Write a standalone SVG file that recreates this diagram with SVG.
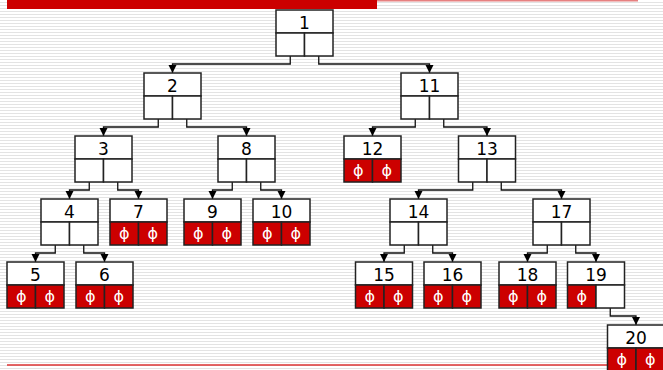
<svg xmlns="http://www.w3.org/2000/svg" width="663" height="370" viewBox="0 0 663 370">
<style>
.box{fill:#fff;stroke:#222;stroke-width:1.5}
.nul{fill:#cc0000;stroke:#222;stroke-width:1.5}
.emp{fill:#fff;stroke:#222;stroke-width:1.5}
.lbl{font-family:"DejaVu Sans",Verdana,sans-serif;font-size:17px;fill:#000;text-anchor:middle}
.phi{font-family:"DejaVu Sans",Verdana,sans-serif;font-size:16px;fill:#fff;text-anchor:middle}
.con{fill:none;stroke:#111;stroke-width:1.3;marker-end:url(#arr)}
</style>
<defs>
<pattern id="stripes" x="0" y="0" width="8" height="3" patternUnits="userSpaceOnUse">
<rect width="8" height="3" fill="#fff"/>
<rect y="2" width="8" height="1" fill="#e3e3e3"/>
</pattern>
<marker id="arr" markerUnits="userSpaceOnUse" markerWidth="10" markerHeight="10" refX="8" refY="4" orient="auto">
<path d="M0,0 L8,4 L0,8 z" fill="#000"/>
</marker>
<g id="leafcells">
<rect class="nul" x="0" y="23" width="28.5" height="23"/>
<rect class="nul" x="28.5" y="23" width="28.5" height="23"/>
<text class="phi" x="14.25" y="40">ϕ</text>
<text class="phi" x="42.75" y="40">ϕ</text>
</g>
<g id="intcells">
<rect class="emp" x="0" y="23" width="28.5" height="23"/>
<rect class="emp" x="28.5" y="23" width="28.5" height="23"/>
</g>
</defs>
<rect width="663" height="370" fill="url(#stripes)"/>
<rect x="7" y="0" width="370" height="9" fill="#cc0000"/>
<rect x="377" y="0" width="261" height="1.5" fill="#e68080"/>
<line x1="7" y1="365" x2="608" y2="365" stroke="#dd3333" stroke-width="1.5"/>

<g id="connectors">
<path class="con" d="M290.25 56 V64 H172.5 V73"/>
<path class="con" d="M318.75 56 V64 H429.5 V73"/>
<path class="con" d="M158.25 119 V127 H103.5 V136"/>
<path class="con" d="M186.75 119 V127 H246.5 V136"/>
<path class="con" d="M415.25 119 V127 H372.5 V136"/>
<path class="con" d="M443.75 119 V127 H487 V136"/>
<path class="con" d="M89.25 182 V190 H69.5 V199"/>
<path class="con" d="M117.75 182 V190 H138.5 V199"/>
<path class="con" d="M232.25 182 V190 H212.5 V199"/>
<path class="con" d="M260.75 182 V190 H281.5 V199"/>
<path class="con" d="M472.75 182 V190 H418.5 V199"/>
<path class="con" d="M501.25 182 V190 H561.5 V199"/>
<path class="con" d="M55.25 245 V253 H35.5 V262"/>
<path class="con" d="M83.75 245 V253 H104.5 V262"/>
<path class="con" d="M404.25 245 V253 H384 V262"/>
<path class="con" d="M432.75 245 V253 H452.5 V262"/>
<path class="con" d="M547.25 245 V253 H527.5 V262"/>
<path class="con" d="M575.75 245 V253 H596 V262"/>
<path class="con" d="M610.25 308 V316 H636 V325"/>
</g>

<g id="n1" transform="translate(276,10)"><rect class="box" width="57" height="23"/><use href="#intcells"/><text class="lbl" x="28.5" y="19">1</text></g>
<g id="n2" transform="translate(144,73)"><rect class="box" width="57" height="23"/><use href="#intcells"/><text class="lbl" x="28.5" y="19">2</text></g>
<g id="n11" transform="translate(401,73)"><rect class="box" width="57" height="23"/><use href="#intcells"/><text class="lbl" x="28.5" y="19">11</text></g>
<g id="n3" transform="translate(75,136)"><rect class="box" width="57" height="23"/><use href="#intcells"/><text class="lbl" x="28.5" y="19">3</text></g>
<g id="n8" transform="translate(218,136)"><rect class="box" width="57" height="23"/><use href="#intcells"/><text class="lbl" x="28.5" y="19">8</text></g>
<g id="n12" transform="translate(344,136)"><rect class="box" width="57" height="23"/><use href="#leafcells"/><text class="lbl" x="28.5" y="19">12</text></g>
<g id="n13" transform="translate(458.5,136)"><rect class="box" width="57" height="23"/><use href="#intcells"/><text class="lbl" x="28.5" y="19">13</text></g>
<g id="n4" transform="translate(41,199)"><rect class="box" width="57" height="23"/><use href="#intcells"/><text class="lbl" x="28.5" y="19">4</text></g>
<g id="n7" transform="translate(110,199)"><rect class="box" width="57" height="23"/><use href="#leafcells"/><text class="lbl" x="28.5" y="19">7</text></g>
<g id="n9" transform="translate(184,199)"><rect class="box" width="57" height="23"/><use href="#leafcells"/><text class="lbl" x="28.5" y="19">9</text></g>
<g id="n10" transform="translate(253,199)"><rect class="box" width="57" height="23"/><use href="#leafcells"/><text class="lbl" x="28.5" y="19">10</text></g>
<g id="n14" transform="translate(390,199)"><rect class="box" width="57" height="23"/><use href="#intcells"/><text class="lbl" x="28.5" y="19">14</text></g>
<g id="n17" transform="translate(533,199)"><rect class="box" width="57" height="23"/><use href="#intcells"/><text class="lbl" x="28.5" y="19">17</text></g>
<g id="n5" transform="translate(7,262)"><rect class="box" width="57" height="23"/><use href="#leafcells"/><text class="lbl" x="28.5" y="19">5</text></g>
<g id="n6" transform="translate(76,262)"><rect class="box" width="57" height="23"/><use href="#leafcells"/><text class="lbl" x="28.5" y="19">6</text></g>
<g id="n15" transform="translate(355.5,262)"><rect class="box" width="57" height="23"/><use href="#leafcells"/><text class="lbl" x="28.5" y="19">15</text></g>
<g id="n16" transform="translate(424,262)"><rect class="box" width="57" height="23"/><use href="#leafcells"/><text class="lbl" x="28.5" y="19">16</text></g>
<g id="n18" transform="translate(499,262)"><rect class="box" width="57" height="23"/><use href="#leafcells"/><text class="lbl" x="28.5" y="19">18</text></g>
<g id="n19" transform="translate(567.5,262)"><rect class="box" width="57" height="23"/><rect class="nul" x="0" y="23" width="28.5" height="23"/><rect class="emp" x="28.5" y="23" width="28.5" height="23"/><text class="phi" x="14.25" y="40">ϕ</text><text class="lbl" x="28.5" y="19">19</text></g>
<g id="n20" transform="translate(607.5,325)"><rect class="box" width="57" height="23"/><use href="#leafcells"/><text class="lbl" x="28.5" y="19">20</text></g>
</svg>
